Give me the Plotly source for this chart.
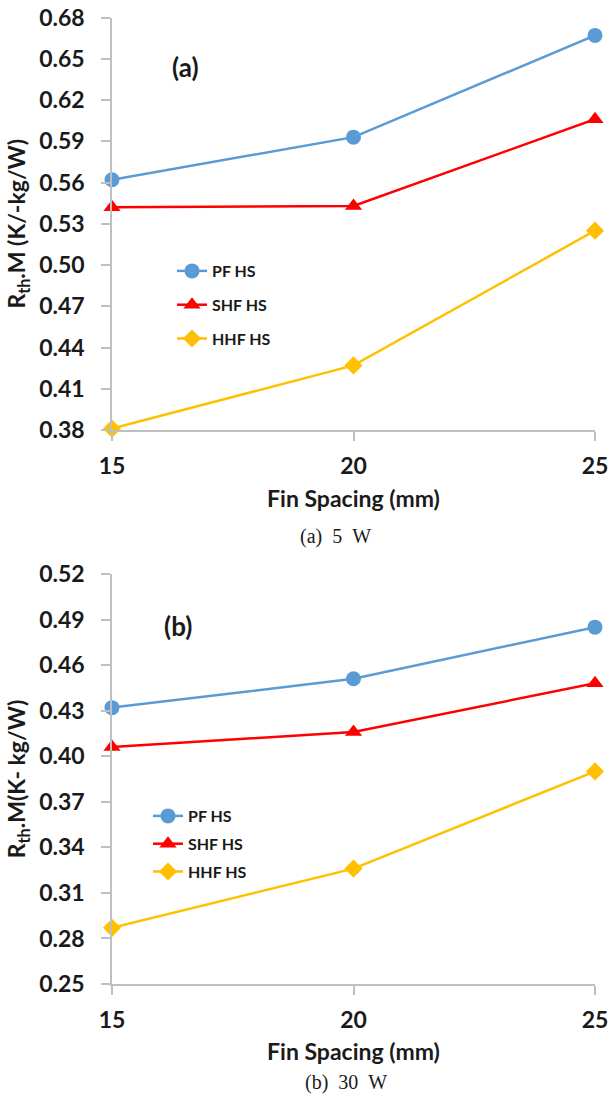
import plotly.graph_objects as go

fin_spacing = [15, 20, 25]
series_names = ["PF HS", "SHF HS", "HHF HS"]

# (a) 5 W
pf_5w = [0.562, 0.593, 0.667]
shf_5w = [0.542, 0.543, 0.606]
hhf_5w = [0.381, 0.427, 0.525]

# (b) 30 W
pf_30w = [0.432, 0.451, 0.485]
shf_30w = [0.406, 0.416, 0.448]
hhf_30w = [0.287, 0.326, 0.390]

colors = ["#5B9BD5", "#FF0000", "#FFC000"]
symbols = ["circle", "triangle-up", "diamond"]
msizes = [15, 15, 14]

W, H = 610, 1097
FONT = "Lato"

def px_x(x):
    return x / W

def px_y(y):
    return 1 - y / H

fig = go.Figure()

panels = [
    ("x", "y", [pf_5w, shf_5w, hhf_5w], "legend"),
    ("x2", "y2", [pf_30w, shf_30w, hhf_30w], "legend2"),
]
for xa, ya, data, leg in panels:
    for i, (name, vals) in enumerate(zip(series_names, data)):
        fig.add_trace(go.Scatter(
            x=fin_spacing, y=vals, name=name, xaxis=xa, yaxis=ya,
            mode="lines+markers", legend=leg, legendgroup=leg + name,
            line=dict(color=colors[i], width=2.5),
            marker=dict(symbol=symbols[i], size=msizes[i], color=colors[i]),
            cliponaxis=False,
        ))

title_font = dict(family=FONT, size=23, color="#1a1a1a", weight="bold")
axis_common = dict(
    showline=True, linecolor="#BFBFBF", linewidth=1.5,
    ticks="outside", ticklen=9, tickcolor="#BFBFBF", tickwidth=1.5,
    showgrid=False, zeroline=False, automargin=False,
    tickfont=dict(family=FONT, size=23, color="#1a1a1a", weight="bold"),
)
xdom = [px_x(112), px_x(595)]

fig.update_layout(
    width=W, height=H, margin=dict(l=0, r=0, t=0, b=0, autoexpand=False),
    paper_bgcolor="white", plot_bgcolor="white",
    xaxis=dict(domain=xdom, anchor="y", range=[15, 25], tickvals=fin_spacing,
               ticklabelstandoff=6,
               title=dict(text="Fin Spacing (mm)", standoff=13, font=title_font),
               **axis_common),
    yaxis=dict(domain=[px_y(430), px_y(17.5)], anchor="x", range=[0.38, 0.68],
               tick0=0.38, dtick=0.03, tickformat=".2f", ticklabelstandoff=12,
               title=dict(text="R<sub>th</sub>.M (K/-kg/W)", standoff=7, font=title_font),
               **axis_common),
    xaxis2=dict(domain=xdom, anchor="y2", range=[15, 25], tickvals=fin_spacing,
                ticklabelstandoff=6,
                title=dict(text="Fin Spacing (mm)", standoff=12, font=title_font),
                **axis_common),
    yaxis2=dict(domain=[px_y(984), px_y(574)], anchor="x2", range=[0.25, 0.52],
                tick0=0.25, dtick=0.03, tickformat=".2f", ticklabelstandoff=12,
                title=dict(text="R<sub>th</sub>.M(K- kg/W)", standoff=7, font=title_font),
                **axis_common),
    legend=dict(x=px_x(172), y=px_y(254), xanchor="left", yanchor="top",
                bgcolor="rgba(0,0,0,0)", traceorder="grouped", tracegroupgap=10,
                font=dict(family=FONT, size=16, color="#1a1a1a", weight="bold")),
    legend2=dict(x=px_x(148), y=px_y(799), xanchor="left", yanchor="top",
                 bgcolor="rgba(0,0,0,0)", traceorder="grouped", tracegroupgap=4,
                 font=dict(family=FONT, size=16, color="#1a1a1a", weight="bold")),
    showlegend=True,
)

ann_font = dict(family=FONT, size=26, color="#1a1a1a", weight="bold")
for txt, xx, yy in [("(a)", 185, 67), ("(b)", 178, 626)]:
    fig.add_annotation(text=txt, x=px_x(xx), y=px_y(yy), xref="paper", yref="paper",
                       xanchor="center", yanchor="middle", showarrow=False, font=ann_font)

cap_font = dict(family="Liberation Serif", size=20, color="#1a1a1a")
for txt, xx, yy in [("(a)\u00a0\u00a05\u00a0\u00a0W", 335, 537),
                    ("(b)\u00a0\u00a030\u00a0\u00a0W", 346, 1082)]:
    fig.add_annotation(text=txt, x=px_x(xx), y=px_y(yy), xref="paper", yref="paper",
                       xanchor="center", yanchor="middle", showarrow=False, font=cap_font)

fig.write_html("out.html")
